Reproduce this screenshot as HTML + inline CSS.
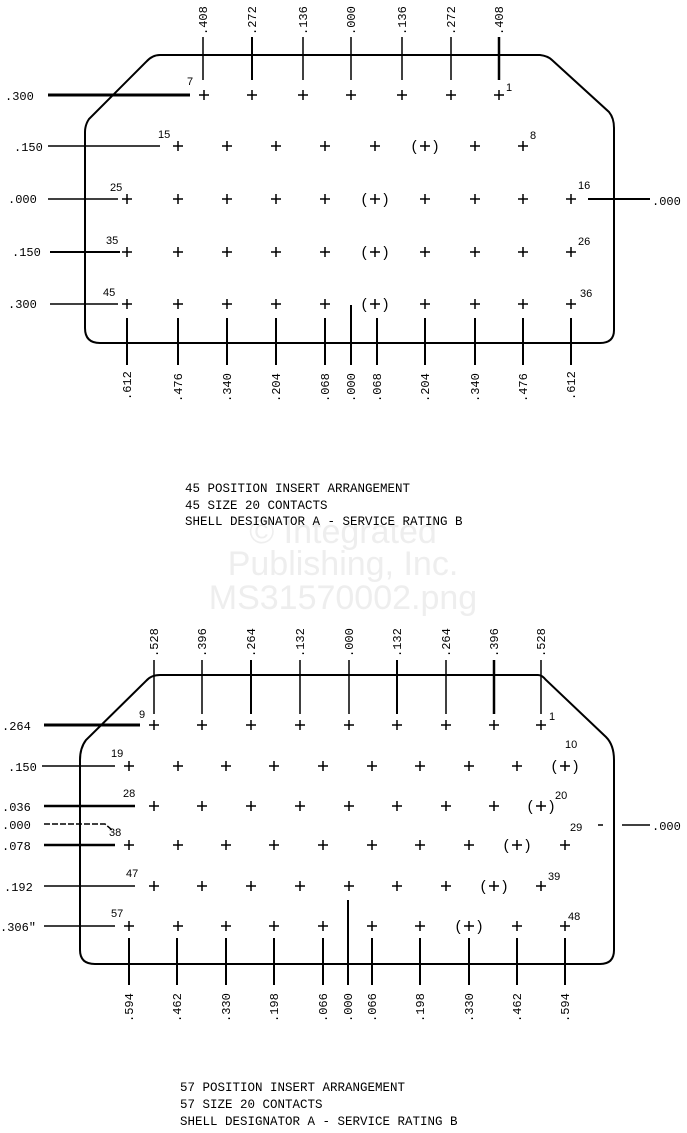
<!DOCTYPE html>
<html><head><meta charset="utf-8"><style>
html,body{margin:0;padding:0;background:#fff;}
svg{display:block}
text{font-family:"Liberation Mono",monospace;fill:#000}
.t{font-family:"Liberation Sans",sans-serif;font-size:12px}
.s{font-family:"Liberation Sans",sans-serif}
.wm{font-family:"Liberation Sans",sans-serif;fill:#eeeeee;font-size:34px}
</style></head><body>
<svg width="687" height="1133" viewBox="0 0 687 1133" xmlns="http://www.w3.org/2000/svg">
<g stroke="#000" fill="none" stroke-width="2">
<path d="M160 55 L540 55 Q548 56 552 60 L609 112 Q614 118 614 128 L614 330 Q614 343 600 343 L100 343 Q85 343 85 328 L85 132 Q85 125 89 119 L146 62 Q152 55 160 55 Z"/>
<path d="M160 675 L538 675 Q542 675 546 680 L606 737 Q614 745 614 760 L614 950 Q614 964 600 964 L95 964 Q80 964 80 950 L80 760 Q80 748 86 740 L146 681 Q151 675 160 675 Z"/>
</g>
<g stroke="#000" stroke-width="1.5">
<line x1="203" y1="37" x2="203" y2="80"/><line x1="252" y1="37" x2="252" y2="80" stroke-width="2"/>
<line x1="303" y1="37" x2="303" y2="80"/><line x1="351" y1="37" x2="351" y2="80"/>
<line x1="402" y1="37" x2="402" y2="80"/><line x1="451" y1="37" x2="451" y2="80"/>
<line x1="499" y1="37" x2="499" y2="80" stroke-width="2.5"/>
<line x1="48" y1="95" x2="190" y2="95" stroke-width="3"/>
<line x1="48" y1="146" x2="160" y2="146"/>
<line x1="48" y1="199" x2="118" y2="199"/>
<line x1="50" y1="252" x2="120" y2="252" stroke-width="2"/>
<line x1="50" y1="304" x2="118" y2="304"/>
<line x1="588" y1="199" x2="650" y2="199" stroke-width="2"/>
<g stroke-width="2">
<line x1="127" y1="318" x2="127" y2="365"/><line x1="178" y1="318" x2="178" y2="365"/>
<line x1="227" y1="318" x2="227" y2="365"/><line x1="276" y1="318" x2="276" y2="365"/>
<line x1="325" y1="318" x2="325" y2="365"/><line x1="351" y1="305" x2="351" y2="365"/>
<line x1="377" y1="318" x2="377" y2="365"/><line x1="425" y1="318" x2="425" y2="365"/>
<line x1="475" y1="318" x2="475" y2="365"/><line x1="523" y1="318" x2="523" y2="365"/>
<line x1="571" y1="318" x2="571" y2="365"/>
</g>
<line x1="154" y1="660" x2="154" y2="714"/><line x1="202" y1="660" x2="202" y2="714"/>
<line x1="251" y1="660" x2="251" y2="714" stroke-width="2"/><line x1="300" y1="660" x2="300" y2="714"/>
<line x1="349" y1="660" x2="349" y2="714"/><line x1="397" y1="660" x2="397" y2="714" stroke-width="2"/>
<line x1="446" y1="660" x2="446" y2="714"/><line x1="494" y1="660" x2="494" y2="714" stroke-width="2.5"/>
<line x1="541" y1="660" x2="541" y2="714"/>
<line x1="44" y1="725" x2="140" y2="725" stroke-width="3"/>
<line x1="42" y1="766" x2="115" y2="766"/>
<line x1="44" y1="806" x2="135" y2="806" stroke-width="2.5"/>
<path d="M44 824 L105 824 L112 830" fill="none" stroke-dasharray="6 2"/>
<line x1="44" y1="845" x2="115" y2="845" stroke-width="2.5"/>
<line x1="44" y1="886" x2="135" y2="886"/>
<line x1="44" y1="926" x2="115" y2="926"/>
<line x1="598" y1="825" x2="603" y2="825"/>
<line x1="622" y1="825" x2="650" y2="825"/>
<g stroke-width="2">
<line x1="129" y1="938" x2="129" y2="985"/><line x1="177" y1="938" x2="177" y2="985"/>
<line x1="226" y1="938" x2="226" y2="985"/><line x1="274" y1="938" x2="274" y2="985"/>
<line x1="323" y1="938" x2="323" y2="985"/><line x1="348" y1="900" x2="348" y2="985"/>
<line x1="372" y1="938" x2="372" y2="985"/><line x1="420" y1="938" x2="420" y2="985"/>
<line x1="469" y1="938" x2="469" y2="985"/><line x1="517" y1="938" x2="517" y2="985"/>
<line x1="565" y1="938" x2="565" y2="985"/>
</g>
</g>

<g stroke="#000" stroke-width="1.5">
<path d="M199 95h10M204 90v10 M247 95h10M252 90v10 M298 95h10M303 90v10 M346 95h10M351 90v10 M397 95h10M402 90v10 M446 95h10M451 90v10 M494 95h10M499 90v10"/>
<path d="M173 146h10M178 141v10 M222 146h10M227 141v10 M271 146h10M276 141v10 M320 146h10M325 141v10 M370 146h10M375 141v10 M420 146h10M425 141v10 M470 146h10M475 141v10 M518 146h10M523 141v10"/>
<path d="M122 199h10M127 194v10 M173 199h10M178 194v10 M222 199h10M227 194v10 M271 199h10M276 194v10 M320 199h10M325 194v10 M370 199h10M375 194v10 M420 199h10M425 194v10 M470 199h10M475 194v10 M518 199h10M523 194v10 M566 199h10M571 194v10"/>
<path d="M122 252h10M127 247v10 M173 252h10M178 247v10 M222 252h10M227 247v10 M271 252h10M276 247v10 M320 252h10M325 247v10 M370 252h10M375 247v10 M420 252h10M425 247v10 M470 252h10M475 247v10 M518 252h10M523 247v10 M566 252h10M571 247v10"/>
<path d="M122 304h10M127 299v10 M173 304h10M178 299v10 M222 304h10M227 299v10 M271 304h10M276 299v10 M320 304h10M325 299v10 M370 304h10M375 299v10 M420 304h10M425 299v10 M470 304h10M475 299v10 M518 304h10M523 299v10 M566 304h10M571 299v10"/>
</g>
<g font-size="15" text-anchor="middle">
<text class="s" x="425" y="151">(&#160;&#160;&#160;&#160;)</text><text class="s" x="375" y="204">(&#160;&#160;&#160;&#160;)</text><text class="s" x="375" y="257">(&#160;&#160;&#160;&#160;)</text><text class="s" x="375" y="309">(&#160;&#160;&#160;&#160;)</text>
</g>
<g font-size="11">
<text class="s" x="187" y="85">7</text><text class="s" x="506" y="91">1</text><text class="s" x="158" y="138">15</text><text class="s" x="530" y="139">8</text>
<text class="s" x="110" y="191">25</text><text class="s" x="578" y="189">16</text><text class="s" x="106" y="244">35</text><text class="s" x="578" y="245">26</text>
<text class="s" x="103" y="296">45</text><text class="s" x="580" y="297">36</text>
</g>
<g class="t">
<text x="5" y="100">.300</text><text x="14" y="151">.150</text><text x="8" y="203">.000</text>
<text x="12" y="256">.150</text><text x="8" y="308">.300</text><text x="652" y="205">.000</text>
</g>
<g class="t" font-size="11">
<text transform="translate(207,35) rotate(-90)">.408</text><text transform="translate(256,35) rotate(-90)">.272</text>
<text transform="translate(307,35) rotate(-90)">.136</text><text transform="translate(355,35) rotate(-90)">.000</text>
<text transform="translate(406,35) rotate(-90)">.136</text><text transform="translate(455,35) rotate(-90)">.272</text>
<text transform="translate(503,35) rotate(-90)">.408</text>
</g>
<g class="t" font-size="11">
<text transform="translate(131,400) rotate(-90)">.612</text><text transform="translate(182,402) rotate(-90)">.476</text>
<text transform="translate(231,402) rotate(-90)">.340</text><text transform="translate(280,402) rotate(-90)">.204</text>
<text transform="translate(329,402) rotate(-90)">.068</text><text transform="translate(355,402) rotate(-90)">.000</text>
<text transform="translate(381,402) rotate(-90)">.068</text><text transform="translate(429,402) rotate(-90)">.204</text>
<text transform="translate(479,402) rotate(-90)">.340</text><text transform="translate(527,402) rotate(-90)">.476</text>
<text transform="translate(575,400) rotate(-90)">.612</text>
</g>
<g text-anchor="middle">
<text class="wm" x="343" y="543">© Integrated</text>
<text class="wm" x="343" y="575">Publishing, Inc.</text>
<text class="wm" x="343" y="609">MS31570002.png</text>
</g>
<g font-size="12.5">
<text x="185" y="492">45 POSITION INSERT ARRANGEMENT</text>
<text x="185" y="509">45 SIZE 20 CONTACTS</text>
<text x="185" y="525">SHELL DESIGNATOR A - SERVICE RATING B</text>
</g>

<g stroke="#000" stroke-width="1.5">
<path d="M149 725h10M154 720v10 M197 725h10M202 720v10 M246 725h10M251 720v10 M295 725h10M300 720v10 M344 725h10M349 720v10 M392 725h10M397 720v10 M441 725h10M446 720v10 M489 725h10M494 720v10 M536 725h10M541 720v10"/>
<path d="M124 766h10M129 761v10 M173 766h10M178 761v10 M221 766h10M226 761v10 M269 766h10M274 761v10 M318 766h10M323 761v10 M367 766h10M372 761v10 M415 766h10M420 761v10 M464 766h10M469 761v10 M512 766h10M517 761v10 M560 766h10M565 761v10"/>
<path d="M149 806h10M154 801v10 M197 806h10M202 801v10 M246 806h10M251 801v10 M295 806h10M300 801v10 M344 806h10M349 801v10 M392 806h10M397 801v10 M441 806h10M446 801v10 M489 806h10M494 801v10 M536 806h10M541 801v10"/>
<path d="M124 845h10M129 840v10 M173 845h10M178 840v10 M221 845h10M226 840v10 M269 845h10M274 840v10 M318 845h10M323 840v10 M367 845h10M372 840v10 M415 845h10M420 840v10 M464 845h10M469 840v10 M512 845h10M517 840v10 M560 845h10M565 840v10"/>
<path d="M149 886h10M154 881v10 M197 886h10M202 881v10 M246 886h10M251 881v10 M295 886h10M300 881v10 M344 886h10M349 881v10 M392 886h10M397 881v10 M441 886h10M446 881v10 M489 886h10M494 881v10 M536 886h10M541 881v10"/>
<path d="M124 926h10M129 921v10 M173 926h10M178 921v10 M221 926h10M226 921v10 M269 926h10M274 921v10 M318 926h10M323 921v10 M367 926h10M372 921v10 M415 926h10M420 921v10 M464 926h10M469 921v10 M512 926h10M517 921v10 M560 926h10M565 921v10"/>
</g>
<g font-size="15" text-anchor="middle">
<text class="s" x="565" y="771">(&#160;&#160;&#160;&#160;)</text><text class="s" x="541" y="811">(&#160;&#160;&#160;&#160;)</text><text class="s" x="517" y="850">(&#160;&#160;&#160;&#160;)</text>
<text class="s" x="494" y="891">(&#160;&#160;&#160;&#160;)</text><text class="s" x="469" y="931">(&#160;&#160;&#160;&#160;)</text>
</g>
<g font-size="11">
<text class="s" x="139" y="718">9</text><text class="s" x="549" y="720">1</text><text class="s" x="111" y="757">19</text><text class="s" x="565" y="748">10</text>
<text class="s" x="123" y="797">28</text><text class="s" x="555" y="799">20</text><text class="s" x="109" y="836">38</text><text class="s" x="570" y="831">29</text>
<text class="s" x="126" y="877">47</text><text class="s" x="548" y="880">39</text><text class="s" x="111" y="917">57</text><text class="s" x="568" y="920">48</text>
</g>
<g class="t">
<text x="2" y="730">.264</text><text x="8" y="771">.150</text><text x="2" y="811">.036</text>
<text x="2" y="829">.000</text><text x="2" y="850">.078</text><text x="4" y="891">.192</text>
<text x="0" y="931">.306"</text><text x="652" y="830">.000</text>
</g>
<g class="t" font-size="11">
<text transform="translate(158,657) rotate(-90)">.528</text><text transform="translate(206,657) rotate(-90)">.396</text>
<text transform="translate(255,657) rotate(-90)">.264</text><text transform="translate(304,657) rotate(-90)">.132</text>
<text transform="translate(353,657) rotate(-90)">.000</text><text transform="translate(401,657) rotate(-90)">.132</text>
<text transform="translate(450,657) rotate(-90)">.264</text><text transform="translate(498,657) rotate(-90)">.396</text>
<text transform="translate(545,657) rotate(-90)">.528</text>
</g>
<g class="t" font-size="11">
<text transform="translate(133,1022) rotate(-90)">.594</text><text transform="translate(181,1022) rotate(-90)">.462</text>
<text transform="translate(230,1022) rotate(-90)">.330</text><text transform="translate(278,1022) rotate(-90)">.198</text>
<text transform="translate(327,1022) rotate(-90)">.066</text><text transform="translate(352,1022) rotate(-90)">.000</text>
<text transform="translate(376,1022) rotate(-90)">.066</text><text transform="translate(424,1022) rotate(-90)">.198</text>
<text transform="translate(473,1022) rotate(-90)">.330</text><text transform="translate(521,1022) rotate(-90)">.462</text>
<text transform="translate(569,1022) rotate(-90)">.594</text>
</g>
<g font-size="12.5">
<text x="180" y="1091">57 POSITION INSERT ARRANGEMENT</text>
<text x="180" y="1108">57 SIZE 20 CONTACTS</text>
<text x="180" y="1125">SHELL DESIGNATOR A - SERVICE RATING B</text>
</g>
</svg>
</body></html>
